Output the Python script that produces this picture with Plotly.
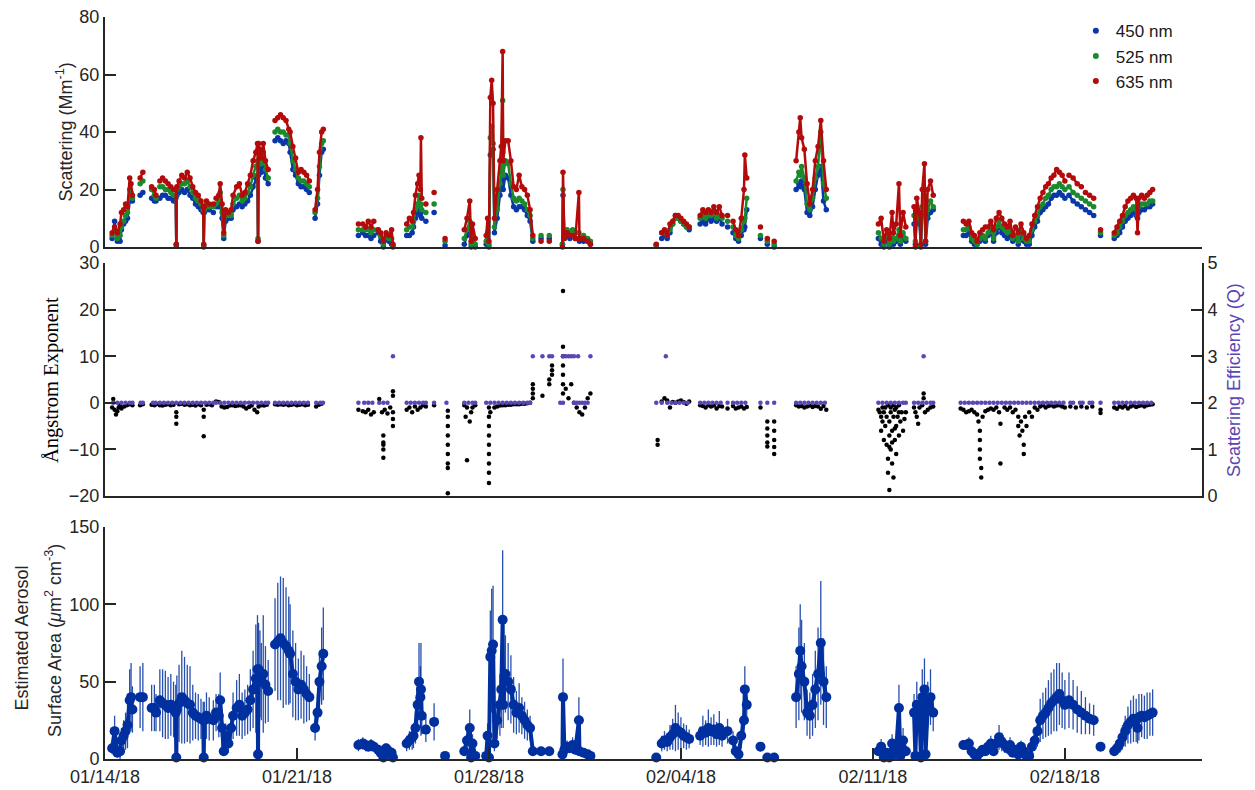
import plotly.graph_objects as go
import pandas as pd

# ---------------- DATA (days after 2018-01-14 00:00; None = data gap) ----------------
SCAT_T = [
    0.26, 0.35, 0.45, 0.55, 0.6, 0.68, 0.75, 0.82, 0.9, 0.95, 1.0, None,
    1.28, 1.38, None,
    1.7, 1.8, 1.86, None,
    2.0, 2.1, 2.2, 2.3, 2.4, 2.5, 2.58, 2.6, 2.62, 2.7, 2.8, 2.9, 3.0, 3.1, 3.2, 3.3, 3.4, 3.5, 3.58, 3.6, 3.62, 3.7, 3.8, 3.95, None,
    4.05, 4.15, 4.2, 4.27, 4.33, 4.4, 4.5, 4.6, 4.67, 4.8, 4.9, 5.0, 5.1, 5.2, 5.3, 5.4, 5.5, 5.56, 5.58, 5.6, 5.65, 5.7, 5.77, 5.85, 5.95, None,
    6.2, 6.3, 6.4, 6.5, 6.6, 6.7, 6.75, 6.85, 6.95, 7.05, 7.15, 7.25, 7.35, 7.45, None,
    7.66, 7.75, 7.82, 7.9, 7.96, None,
    9.24, None,
    9.4, 9.5, 9.6, 9.7, 9.8, None,
    9.96, 10.05, 10.15, 10.25, 10.35, 10.45, 10.5, None,
    11.0, 11.1, 11.2, 11.25, 11.32, 11.4, 11.45, 11.5, 11.52, 11.55, None,
    11.7, None, 12.0, None, 12.4, None,
    13.1, 13.2, 13.3, 13.35, 13.4, 13.5, None,
    13.9, 13.95, 14.0, 14.05, 14.1, 14.15, 14.2, 14.3, 14.4, 14.45, 14.5, 14.52, 14.6, 14.7, 14.8, 14.9, 15.0, 15.1, 15.2, 15.3, 15.4, 15.5, 15.6, None,
    15.9, None, 16.2, None,
    16.68, 16.7, 16.75, 16.85, 16.95, 17.05, 17.15, 17.28, 17.3, 17.45, 17.6, 17.7, None,
    20.1, None,
    20.3, 20.4, 20.5, 20.6, 20.7, 20.8, 20.9, 21.0, 21.1, 21.2, 21.3, None,
    21.7, 21.8, 21.9, 22.0, 22.1, 22.2, 22.3, 22.4, 22.5, None,
    22.7, None,
    22.9, 23.0, 23.1, 23.2, 23.3, 23.33, 23.4, None,
    23.9, None, 24.15, None, 24.4, None,
    25.2, 25.3, 25.35, 25.4, 25.5, 25.6, 25.7, 25.8, 25.9, 26.0, 26.1, 26.2, 26.3, None,
    28.2, 28.3, 28.4, 28.5, 28.6, 28.7, 28.75, 28.85, 28.95, 29.0, 29.1, 29.2, None,
    29.5, 29.55, 29.6, 29.7, 29.75, 29.8, 29.88, 29.92, 30.0, 30.1, 30.2, None,
    31.3, 31.4, 31.5, 31.6, 31.7, 31.8, 31.9, 32.0, 32.1, 32.2,
    32.3, 32.4, 32.5, 32.6, 32.7, 32.8, 32.9, 33.0, 33.1, 33.2,
    33.3, 33.4, 33.5, 33.6, 33.7, 33.8, 33.9, 34.0, 34.1, 34.2,
    34.3, 34.4, 34.5, 34.6, 34.7, 34.8, 34.9, 35.0, None,
    35.15, 35.3, 35.45, 35.6, None,
    35.75, 35.9, 36.05, None,
    36.3, None,
    36.8, 36.9, 37.0, 37.1, 37.2, 37.3, 37.4, 37.5, 37.6, 37.65, 37.7, 37.8, 37.9, 38.0, 38.1, 38.2,
]

SCAT_450 = [
    3, 9, 2, 2, 6, 8, 9, 10, 16, 17, 16, None,
    18, 19, None,
    17, 16, 16, None,
    17, 18, 18, 17, 17, 16, 17, 0.5, 18, 19, 20, 19, 20, 18, 17, 15, 14, 13, 12, 0, 12, 13, 13, 12, None,
    14, 14, 16, 10, 3, 9, 10, 10, 13, 14, 15, 14, 15, 16, 18, 21, 24, 25, 2, 25, 28, 26, 30, 24, 22, None,
    37, 38, 37, 36, 37, 36, 33, 27, 25, 22, 21, 21, 20, 19, None,
    10, 15, 25, 33, 34, None,
    4, None,
    5, 4, 4, 3, 4, None,
    5, 2, 0, 3, 2, 1, 0, None,
    4, 4, 5, 7, 10, 12, 13, 11, 12, 10, None,
    9, None, 12, None, 0.5, None,
    1, 4, 6, 0, 3, 0, None,
    1, 3, 0, 32, 33, 34, 5, 10, 18, 21, 33, 20, 25, 24, 18, 14, 13, 14, 14, 13, 11, 9, 2, None,
    3, None, 3, None,
    1, 18, 3, 4, 3, 4, 3, 3, 2, 2, 2, 1, None,
    0.5, None,
    3, 4, 3, 5, 8, 11, 10, 9, 8, 7, 6, None,
    8, 9, 8, 10, 9, 10, 9, 10, 8, None,
    7, None,
    5, 3, 2, 4, 6, 7, 13, None,
    3, None, 1, None, 0, None,
    20, 22, 21, 23, 20, 12, 11, 14, 20, 25, 28, 16, 13, None,
    3, 1, 0, 2, 0, 2, 1, 2, 4, 1, 3, 2, None,
    8, 1, 10, 8, 0, 12, 13, 1, 10, 12, 13, None,
    4, 4, 5, 2, 1, 1, 2, 3, 2, 4,
    5, 2, 5, 7, 5, 4, 3, 4, 2, 3,
    1, 4, 2, 1, 1, 4, 7, 9, 12, 13,
    14, 15, 17, 18, 18, 19, 18, 17, None,
    18, 16, 15, 14, None,
    13, 12, 11, None,
    4, None,
    3, 4, 5, 7, 9, 10, 11, 12, 11, 10, 12, 13, 13, 14, 14, 15,
]

SCAT_525 = [
    4, 6, 3, 4, 7, 9, 11, 12, 20, 19, 17, None,
    22, 23, None,
    20, 18, 17, None,
    21, 21, 20, 20, 19, 18, 18, 1, 20, 21, 22, 22, 23, 21, 19, 17, 16, 15, 13, 0.5, 13, 14, 14, 14, None,
    15, 16, 19, 12, 4, 11, 11, 11, 15, 17, 18, 16, 17, 19, 21, 25, 28, 30, 3, 30, 31, 29, 33, 27, 24, None,
    40, 41, 40, 40, 39, 39, 36, 30, 27, 24, 23, 23, 22, 21, None,
    12, 17, 28, 36, 37, None,
    6, None,
    6, 6, 6, 5, 6, None,
    6, 4, 1, 4, 3, 3, 0.5, None,
    6, 7, 7, 9, 13, 15, 18, 14, 15, 13, None,
    12, None, 15, None, 2, None,
    3, 6, 9, 1, 5, 1, None,
    2, 5, 1, 38, 42, 36, 7, 13, 22, 26, 51, 25, 30, 29, 22, 17, 16, 17, 16, 15, 13, 11, 3, None,
    4, None, 4, None,
    1, 20, 4, 6, 5, 6, 5, 5, 3, 4, 3, 2, None,
    0.8, None,
    5, 5, 4, 6, 8, 10, 10, 9, 8, 7, 7, None,
    10, 11, 10, 11, 11, 12, 10, 11, 10, None,
    9, None,
    7, 4, 3, 6, 9, 10, 17, None,
    4, None, 2, None, 1, None,
    23, 26, 25, 28, 24, 15, 13, 17, 24, 28, 40, 22, 17, None,
    5, 3, 1, 4, 1, 4, 2, 3, 6, 2, 5, 3, None,
    11, 2, 13, 10, 0.5, 14, 18, 2, 13, 16, 14, None,
    6, 6, 7, 3, 2, 1, 3, 4, 3, 5,
    7, 3, 7, 9, 7, 6, 5, 6, 3, 4,
    2, 6, 3, 2, 2, 6, 9, 11, 14, 15,
    17, 18, 20, 21, 21, 22, 21, 20, None,
    21, 19, 18, 17, None,
    16, 15, 14, None,
    5, None,
    4, 5, 7, 9, 11, 12, 13, 14, 13, 11, 14, 15, 15, 15, 16, 16,
]

SCAT_635 = [
    5, 7, 5, 8, 12, 13, 15, 14, 24, 22, 18, None,
    24, 26, None,
    21, 20, 18, None,
    23, 24, 23, 22, 21, 20, 20, 1, 21, 23, 25, 24, 26, 24, 21, 19, 18, 16, 14, 1, 14, 16, 15, 15, None,
    17, 18, 22, 15, 5, 13, 12, 13, 18, 21, 22, 18, 19, 22, 25, 30, 33, 36, 2, 36, 34, 31, 36, 30, 27, None,
    44, 45, 46, 45, 44, 41, 40, 35, 31, 26, 27, 26, 25, 23, None,
    13, 20, 33, 40, 41, None,
    8, None,
    8, 7, 9, 7, 9, None,
    6, 5, 2, 5, 4, 6, 1, None,
    8, 10, 9, 12, 18, 22, 25, 20, 38, 17, None,
    15, None, 19, None, 3, None,
    6, 10, 16, 2, 8, 3, None,
    4, 10, 2, 52, 58, 50, 10, 20, 30, 35, 68, 30, 37, 37, 30, 21, 20, 25, 21, 20, 18, 13, 4, None,
    2, None, 2, None,
    0, 26, 3, 5, 4, 4, 3, 19, 3, 3, 2, 1, None,
    1, None,
    5, 6, 4, 8, 9, 11, 11, 10, 9, 8, 7, None,
    11, 13, 12, 13, 12, 14, 12, 14, 11, None,
    11, None,
    9, 6, 4, 10, 20, 32, 24, None,
    7, None, 3, None, 2, None,
    30, 40, 45, 38, 34, 22, 15, 20, 30, 35, 44, 30, 20, None,
    8, 10, 2, 6, 3, 12, 5, 8, 22, 4, 12, 7, None,
    14, 0, 17, 12, 1, 20, 29, 2, 20, 23, 18, None,
    9, 8, 9, 5, 4, 2, 5, 6, 7, 7,
    9, 6, 10, 12, 10, 8, 7, 9, 4, 7,
    5, 8, 5, 3, 4, 8, 11, 14, 17, 19,
    21, 22, 24, 25, 27, 26, 25, 23, None,
    25, 24, 22, 21, None,
    19, 18, 17, None,
    6, None,
    5, 7, 9, 11, 14, 16, 17, 18, 17, 5, 17, 18, 17, 18, 19, 20,
]

# Estimated aerosol surface area and its uncertainty, on the SCAT_T times
SA = [
    7, 18, 4, 5, 12, 15, 18, 22, 38, 40, 32, None,
    40, 40, None,
    33, 33, 30, None,
    38, 36, 35, 33, 35, 32, 30, 1, 32, 36, 40, 38, 36, 35, 30, 28, 27, 26, 25, 1, 25, 28, 26, 25, None,
    30, 28, 38, 20, 5, 15, 10, 20, 28, 33, 35, 28, 30, 32, 38, 45, 52, 58, 3, 58, 55, 50, 55, 48, 44, None,
    74, 76, 78, 75, 73, 70, 68, 55, 50, 45, 48, 45, 42, 40, None,
    20, 30, 50, 60, 68, None,
    9, None,
    10, 9, 8, 9, 8, None,
    6, 4, 1, 7, 5, 4, 1, None,
    10, 12, 14, 15, 20, 35, 50, 40, 45, 28, None,
    19, None, 24, None, 2, None,
    5, 12, 20, 1, 10, 2, None,
    2, 15, 1, 66, 70, 74, 10, 25, 35, 45, 90, 35, 55, 50, 45, 35, 30, 33, 28, 25, 22, 20, 5, None,
    5, None, 5, None,
    3, 40, 6, 8, 7, 9, 6, 25, 5, 4, 3, 2, None,
    1, None,
    10, 12, 11, 14, 16, 20, 18, 17, 15, 14, 13, None,
    15, 18, 17, 20, 18, 19, 16, 20, 15, None,
    18, None,
    12, 5, 3, 15, 25, 45, 35, None,
    8, None, 1, None, 1, None,
    40, 55, 70, 60, 50, 30, 28, 35, 45, 55, 75, 50, 40, None,
    5, 8, 1, 4, 1, 10, 3, 6, 33, 2, 12, 5, None,
    30, 2, 35, 28, 1, 40, 45, 3, 35, 40, 30, None,
    9, 9, 10, 5, 3, 2, 4, 6, 5, 8,
    10, 5, 10, 14, 11, 9, 7, 9, 4, 6,
    3, 8, 5, 2, 2, 8, 12, 18, 25, 28,
    30, 33, 36, 38, 40, 42, 38, 35, None,
    38, 35, 32, 30, None,
    28, 26, 25, None,
    8, None,
    5, 7, 10, 14, 18, 22, 24, 26, 25, 20, 27, 28, 27, 28, 29, 30,
]

SA_ERR = [
    4, 10, 3, 5, 8, 10, 12, 15, 20, 22, 15, None,
    20, 22, None,
    15, 15, 12, None,
    20, 22, 22, 20, 20, 18, 18, 1, 22, 25, 30, 28, 25, 25, 18, 15, 15, 13, 12, 1, 12, 15, 14, 13, None,
    12, 14, 18, 12, 3, 8, 6, 10, 15, 18, 20, 15, 15, 16, 20, 25, 35, 35, 2, 30, 28, 25, 38, 25, 20, None,
    30, 38, 40, 42, 38, 35, 32, 28, 25, 20, 22, 22, 18, 15, None,
    8, 12, 18, 25, 30, None,
    4, None,
    4, 4, 3, 4, 3, None,
    2, 3, 1, 3, 3, 3, 1, None,
    5, 6, 8, 8, 10, 15, 25, 20, 30, 12, None,
    8, None, 12, None, 1, None,
    3, 6, 12, 1, 6, 1, None,
    1, 8, 1, 30, 40, 38, 5, 12, 20, 25, 45, 15, 25, 25, 22, 18, 14, 16, 12, 12, 10, 8, 2, None,
    1, None, 1, None,
    1, 25, 2, 4, 3, 5, 3, 15, 2, 2, 1, 1, None,
    0.5, None,
    5, 6, 6, 8, 10, 15, 12, 10, 8, 8, 6, None,
    6, 10, 8, 12, 9, 10, 8, 11, 7, None,
    8, None,
    6, 3, 2, 8, 12, 15, 12, None,
    3, None, 0.5, None, 0.5, None,
    20, 30, 30, 30, 25, 15, 15, 20, 25, 30, 40, 28, 20, None,
    3, 5, 1, 3, 1, 6, 2, 4, 15, 1, 8, 3, None,
    12, 1, 15, 12, 1, 18, 20, 1, 15, 18, 12, None,
    3, 3, 4, 2, 2, 1, 2, 3, 3, 4,
    5, 3, 5, 8, 6, 5, 4, 5, 2, 3,
    2, 4, 3, 1, 1, 4, 6, 10, 14, 15,
    16, 18, 20, 20, 22, 20, 18, 16, None,
    18, 16, 15, 14, None,
    12, 10, 10, None,
    3, None,
    3, 4, 6, 8, 10, 12, 14, 15, 14, 10, 15, 14, 14, 15, 14, 15,
]

AE_T = [
    0.26, 0.3, 0.35, 0.4, 0.45, 0.5, 0.55, 0.6, 0.7, 0.8, 0.9, 1.0,
    1.28, 1.38, 1.7, 1.8, 1.86,
    2.0, 2.1, 2.2, 2.3, 2.4, 2.5, 2.6, 2.6, 2.6, 2.7, 2.8, 2.9, 3.0, 3.1, 3.2, 3.3, 3.4, 3.5, 3.6, 3.6, 3.6, 3.7, 3.8, 3.9,
    4.05, 4.15, 4.25, 4.35, 4.45, 4.55, 4.65, 4.75, 4.85, 4.95, 5.05, 5.15, 5.25, 5.35, 5.45, 5.55, 5.6, 5.7, 5.8, 5.9,
    6.2, 6.3, 6.4, 6.5, 6.6, 6.7, 6.8, 6.9, 7.0, 7.1, 7.2, 7.3, 7.4,
    7.7, 7.8, 7.9,
    9.24, 9.4, 9.5, 9.6, 9.7, 9.8,
    10.0, 10.1, 10.15, 10.15, 10.15, 10.15, 10.15, 10.2, 10.3, 10.4, 10.5, 10.5, 10.5, 10.5, 10.5,
    11.0, 11.1, 11.2, 11.3, 11.4, 11.5, 11.6, 11.7, 12.0,
    12.5, 12.5, 12.5, 12.5, 12.5, 12.5, 12.5, 12.5, 12.5,
    13.1, 13.15, 13.2, 13.2, 13.3, 13.35, 13.4, 13.5,
    14.0, 14.0, 14.0, 14.0, 14.0, 14.0, 14.0, 14.0, 14.0, 14.05,
    14.2, 14.3, 14.4, 14.5, 14.6, 14.7, 14.8, 14.9, 15.0, 15.1, 15.2, 15.3, 15.4, 15.5,
    15.6, 15.6, 15.6, 15.6, 15.95, 16.2, 16.2, 16.3, 16.3, 16.3,
    16.7, 16.7, 16.7, 16.7, 16.7, 16.7, 16.7,
    16.8, 16.9, 17.0, 17.1, 17.2, 17.3, 17.4, 17.5, 17.6, 17.7,
    20.15, 20.15,
    20.3, 20.4, 20.5, 20.6, 20.7, 20.8, 20.9, 21.0, 21.1, 21.2, 21.3,
    21.7, 21.8, 21.9, 22.0, 22.1, 22.2, 22.3, 22.4, 22.5, 22.7,
    22.9, 23.0, 23.1, 23.2, 23.3, 23.4, 23.9,
    24.15, 24.15, 24.15, 24.15, 24.15, 24.4, 24.4, 24.4, 24.4, 24.4,
    25.2, 25.3, 25.4, 25.5, 25.6, 25.7, 25.8, 25.9, 26.0, 26.1, 26.2, 26.3,
    28.2, 28.25, 28.3, 28.3, 28.35, 28.35, 28.4, 28.4, 28.45, 28.45,
    28.5, 28.5, 28.55, 28.55, 28.55, 28.6, 28.6, 28.6, 28.6, 28.65,
    28.65, 28.65, 28.7, 28.7, 28.7, 28.75, 28.75, 28.75, 28.8, 28.8,
    28.8, 28.85, 28.85, 28.85, 28.9, 28.95, 28.95, 28.95, 29.0, 29.05,
    29.1, 29.15, 29.2,
    29.5, 29.55, 29.6, 29.65, 29.7, 29.8, 29.85, 29.85, 29.9, 30.0, 30.1, 30.2,
    31.2, 31.3, 31.4, 31.5, 31.6, 31.7, 31.8, 31.85, 31.9, 31.9,
    31.9, 31.9, 31.95, 31.95, 32.0, 32.1, 32.2, 32.3, 32.4,
    32.5, 32.6, 32.65, 32.65, 32.8, 32.9, 33.0, 33.1, 33.2, 33.3,
    33.3, 33.35, 33.4, 33.45, 33.5, 33.5, 33.55, 33.6, 33.7, 33.8,
    33.9, 34.0,
    34.1, 34.2, 34.3, 34.4, 34.5, 34.6, 34.7, 34.8, 34.9, 35.0,
    35.2, 35.4, 35.6, 35.8, 36.0, 36.3, 36.3,
    36.8, 36.9, 37.0, 37.1, 37.2, 37.3, 37.4, 37.5, 37.6, 37.7, 37.8, 37.9, 38.0, 38.1, 38.2,
]

AE_V = [
    -1, 0.8, -1.5, -2.5, -1.8, -1, -0.5, -1.2, -0.8, -0.5, -0.3, -0.5,
    -0.5, -0.3, -0.4, -0.5, -0.3,
    -0.5, -0.6, -0.4, -0.3, -0.5, -0.4, -2, -3, -4.5, -0.3, -0.2, -0.4, -0.3, -0.5, -0.4, -0.6, -0.3, -0.5, -1.5, -3, -7.2, -0.4, -0.3, -0.5,
    0.3, 0.2, -0.8, -1, -0.9, -0.6, -0.5, -0.7, -0.6, -0.5, -0.8, -1.2, -0.9, -0.6, -1.5, -2, -0.8, -0.5, -0.6, -0.4,
    -0.3, -0.4, -0.3, -0.4, -0.3, -0.5, -0.4, -0.3, -0.5, -0.4, -0.3, -0.5, -0.4,
    -0.8, -0.4, -0.2,
    -1.5, -1.8, -2, -1.5, -2.5, -2,
    0.8, -2, -7, -8.5, -10, -11.8, -9, -1.5, -2.3, -1, 2.5, 1.5, -2, -3.5, -5,
    -1.5, -1, -2, -0.8, -1.5, -1, -0.5, -0.8, -0.5,
    -1.7, -3, -5, -7, -9, -11, -13, -14, -19.4,
    -0.5, -3, -1, -12.3, -4, -2, -1, -0.5,
    -1, -3, -5, -7, -9, -11, -13, -15, -17.2, -2,
    -1, -0.8, -0.6, -0.5, -0.5, -0.4, -0.4, -0.3, -0.3, -0.3, -0.2, -0.2, -0.1, 0,
    1, 2, 3, 4, 1.5, 4, 5, 6, 7, 8,
    24, 12, 10, 8, 6, 4, 2,
    3, 1, 4, 0, -1, -2, -2.5, -1, 1, 2,
    -8, -9,
    0.3, 1, 0.5, -1, 0.2, 0, 0.3, 0.5, 0.2, -0.2, 0.3,
    -0.5, -0.7, -1, -0.5, -0.8, -0.6, -1.2, -0.7, -0.8, -1.2,
    -0.7, -1.2, -1, -0.8, -1.2, -0.9, -1,
    -4, -5.5, -7, -8.5, -9.4, -4, -6, -8, -9.5, -11,
    -0.5, -0.8, -0.7, -1, -0.8, -0.6, -0.9, -0.7, -0.8, -1.3, -0.7, -1.5,
    -1.5, -2, -3, -6, -4, -1, -8, -2, -5, -1,
    -9, -3, -12, -15, -0.5, -18.7, -7, -4, -9.5, -10,
    -2, -1, -6, -13, -8.5, -16, -3, -0.5, -8, -1.5,
    -5.5, -5, -11, -1, -3, -2, -7, -0.5, -4, -2,
    -6, -3.5, -2,
    -1, -2, -3, -4.5, -1, -0.5, 2, 1, -2, -1.5, -1, -0.8,
    -1.2, -1.5, -2, -1.8, -1.5, -2, -2.5, -4, -6, -8,
    -10, -12, -14, -16, -3, -1.8, -1.5, -1.2, -1.5,
    -1, -2, -4.5, -13, -1, -1.5, -1, -2, -1.5, -3,
    -5, -7, -4, -6, -9, -11, -3, -5, -2, -3,
    -1, -1.5,
    -0.8, -0.5, -1, -0.7, -0.5, -0.8, -0.6, -0.5, -0.8, -1,
    -0.8, -1, -0.8, -1, -0.8, -1.5, -2.2,
    -1, -1.3, -0.8, -1, -0.7, -1.2, -0.8, -0.6, -0.9, -0.7, -0.5, -0.8, -0.5, -0.4, -0.3,
]

Q_T = [
    0.3, 0.45, 0.6, 0.75, 0.9, 1.0, 1.3, 1.38, 1.75, 1.85,
    2.0, 2.15, 2.3, 2.45, 2.6, 2.75, 2.9, 3.05, 3.2, 3.35, 3.5, 3.65, 3.8, 3.95,
    4.05, 4.2, 4.35, 4.5, 4.65, 4.8, 4.95, 5.1, 5.25, 5.4, 5.55, 5.7, 5.85, 5.95,
    6.2, 6.35, 6.5, 6.65, 6.8, 6.95, 7.1, 7.25, 7.4, 7.7, 7.85, 7.95,
    9.24, 9.45, 9.6, 9.75, 10.0, 10.15, 10.3, 10.5,
    11.0, 11.15, 11.3, 11.45, 11.6, 11.7, 12.0, 12.45,
    13.1, 13.25, 13.4, 13.5,
    13.9, 14.05, 14.2, 14.35, 14.5, 14.65, 14.8, 14.95, 15.1, 15.25, 15.4, 15.5,
    15.6, 15.95, 16.2, 16.3, 16.7, 16.8, 16.9, 17.0, 17.1, 17.25, 17.7,
    16.6, 16.7, 17.1, 17.2, 17.3, 17.4, 17.5, 17.6,
    20.1, 20.45, 20.3, 20.5, 20.65, 20.8, 20.95, 21.1, 21.25,
    21.7, 21.85, 22.0, 22.15, 22.3, 22.45, 22.7, 22.9, 23.05, 23.2, 23.35,
    23.9, 24.15, 24.4,
    25.2, 25.35, 25.5, 25.65, 25.8, 25.95, 26.1, 26.25,
    28.2, 28.35, 28.5, 28.65, 28.8, 28.95, 29.1, 29.2,
    29.5, 29.65, 29.8, 29.95, 30.1, 30.2, 29.85,
    31.2, 31.35, 31.5, 31.65, 31.8, 31.95, 32.1, 32.25, 32.4, 32.55,
    32.7, 32.85, 33.0, 33.15, 33.3, 33.45, 33.6, 33.75, 33.9, 34.05,
    34.2, 34.35, 34.5, 34.65, 34.8, 34.95,
    35.2, 35.3, 35.55, 35.65, 35.9, 36.0, 36.3,
    36.8, 36.95, 37.1, 37.25, 37.4, 37.55, 37.7, 37.85, 38.0, 38.15,
]

Q_V = [
    2, 2, 2, 2, 2, 2, 2, 2, 2, 2,
    2, 2, 2, 2, 2, 2, 2, 2, 2, 2, 2, 2, 2, 2,
    2, 2, 2, 2, 2, 2, 2, 2, 2, 2, 2, 2, 2, 2,
    2, 2, 2, 2, 2, 2, 2, 2, 2, 2, 2, 2,
    2, 2, 2, 2, 2, 2, 2, 3,
    2, 2, 2, 2, 2, 2, 2, 2,
    2, 2, 2, 2,
    2, 2, 2, 2, 2, 2, 2, 2, 2, 2, 2, 2,
    3, 3, 3, 3, 3, 3, 3, 3, 3, 3, 3,
    2, 2, 2, 2, 2, 2, 2, 2,
    2, 3, 2, 2, 2, 2, 2, 2, 2,
    2, 2, 2, 2, 2, 2, 2, 2, 2, 2, 2,
    2, 2, 2,
    2, 2, 2, 2, 2, 2, 2, 2,
    2, 2, 2, 2, 2, 2, 2, 2,
    2, 2, 2, 2, 2, 2, 3,
    2, 2, 2, 2, 2, 2, 2, 2, 2, 2,
    2, 2, 2, 2, 2, 2, 2, 2, 2, 2,
    2, 2, 2, 2, 2, 2,
    2, 2, 2, 2, 2, 2, 2,
    2, 2, 2, 2, 2, 2, 2, 2, 2, 2,
]

WAVELENGTH_LABELS = ["450 nm", "525 nm", "635 nm"]
TICK_DATES = ["2018-01-14", "2018-01-21", "2018-01-28", "2018-02-04", "2018-02-11", "2018-02-18"]
TICK_TEXT = ["01/14/18", "01/21/18", "01/28/18", "02/04/18", "02/11/18", "02/18/18"]

assert len(SCAT_T) == len(SCAT_450) == len(SCAT_525) == len(SCAT_635) == len(SA) == len(SA_ERR), (
    len(SCAT_T), len(SCAT_450), len(SCAT_525), len(SCAT_635), len(SA), len(SA_ERR))
assert len(AE_T) == len(AE_V), (len(AE_T), len(AE_V))
assert len(Q_T) == len(Q_V), (len(Q_T), len(Q_V))

# ---------------- FIGURE ----------------
BASE = pd.Timestamp("2018-01-14")


def to_dates(ts):
    return [None if t is None else BASE + pd.Timedelta(days=t) for t in ts]


C_BLUE = "#0a36a8"
C_GREEN = "#1b8a2c"
C_RED = "#b30b0b"
C_PURPLE = "#5a46b4"
C_SA = "#0030a0"
AX = "#262626"
FONT = "Liberation Sans, Arial, sans-serif"

fig = go.Figure()

xs = to_dates(SCAT_T)
for vals, col in [(SCAT_450, C_BLUE), (SCAT_525, C_GREEN), (SCAT_635, C_RED)]:
    fig.add_trace(go.Scatter(x=xs, y=vals, mode="lines+markers", xaxis="x", yaxis="y",
                             line=dict(color=col, width=2.5), marker=dict(color=col, size=5.5),
                             connectgaps=False, showlegend=False, cliponaxis=False))
for lab, col in zip(WAVELENGTH_LABELS, [C_BLUE, C_GREEN, C_RED]):
    fig.add_trace(go.Scatter(x=[None], y=[None], mode="markers", xaxis="x", yaxis="y",
                             marker=dict(color=col, size=6), name=lab, showlegend=True))

fig.add_trace(go.Scatter(x=to_dates(AE_T), y=AE_V, mode="markers", xaxis="x2", yaxis="y2",
                         marker=dict(color="black", size=4.5), showlegend=False, cliponaxis=False))
fig.add_trace(go.Scatter(x=to_dates(Q_T), y=Q_V, mode="markers", xaxis="x2", yaxis="y4",
                         marker=dict(color=C_PURPLE, size=4.5), showlegend=False, cliponaxis=False))

fig.add_trace(go.Scatter(x=xs, y=SA, mode="lines+markers", xaxis="x3", yaxis="y3",
                         line=dict(color=C_SA, width=4), marker=dict(color=C_SA, size=10),
                         error_y=dict(type="data", array=SA_ERR, color="rgba(0,48,160,0.85)",
                                      thickness=1.3, width=0),
                         connectgaps=False, showlegend=False, cliponaxis=False))

XR = ["2018-01-14", "2018-02-23"]
tickfont = dict(family=FONT, size=18, color=AX)
common_x = dict(range=XR, type="date", showgrid=False, zeroline=False, showline=True,
                linecolor=AX, linewidth=2, automargin=False)
common_y = dict(showgrid=False, zeroline=False, showline=True, linecolor=AX, linewidth=2,
                ticks="inside", ticklen=11, tickwidth=2, tickcolor=AX, tickfont=tickfont,
                automargin=False)

fig.update_layout(
    width=1255, height=790,
    margin=dict(l=105, r=53, t=17, b=31, autoexpand=False),
    paper_bgcolor="white", plot_bgcolor="white",
    font=dict(family=FONT, color=AX),
    xaxis=dict(**common_x, anchor="y", domain=[0, 1], showticklabels=False, ticks=""),
    yaxis=dict(**common_y, anchor="x", domain=[0.69, 1.0], range=[0, 80],
               tickvals=[0, 20, 40, 60, 80]),
    xaxis2=dict(**common_x, anchor="y2", domain=[0, 1], showticklabels=False, ticks=""),
    yaxis2=dict(**common_y, anchor="x2", domain=[0.3544, 0.6685], range=[-20, 30],
                tickvals=[-20, -10, 0, 10, 20, 30]),
    yaxis4=dict(**common_y, anchor="x2", overlaying="y2", side="right", range=[0, 5],
                tickvals=[0, 1, 2, 3, 4, 5]),
    xaxis3=dict(**common_x, anchor="y3", domain=[0, 1], tickvals=TICK_DATES, ticktext=TICK_TEXT,
                ticks="inside", ticklen=11, tickwidth=2, tickcolor=AX, tickfont=tickfont),
    yaxis3=dict(**common_y, anchor="x3", domain=[0, 0.3127], range=[0, 150],
                tickvals=[0, 50, 100, 150]),
    legend=dict(x=0.885, y=1.005, xanchor="left", yanchor="top", bgcolor="rgba(0,0,0,0)",
                font=dict(family=FONT, size=17, color="#1a1a1a"), itemwidth=30),
)

ann = dict(xref="paper", yref="paper", showarrow=False, textangle=-90,
           xanchor="center", yanchor="middle")
fig.add_annotation(**ann, x=-0.0369, y=0.845, text="Scattering (Mm<sup>-1</sup>)",
                   font=dict(family=FONT, size=18, color=AX))
fig.add_annotation(**ann, x=-0.0483, y=0.5108, text="Ångstrom Exponent",
                   font=dict(family="Liberation Serif, DejaVu Serif, serif", size=20.5, color="black"))
fig.add_annotation(**ann, x=1.0292, y=0.5108, text="Scattering Efficiency (Q)",
                   font=dict(family=FONT, size=18, color=C_PURPLE))
fig.add_annotation(**ann, x=-0.0761, y=0.1631, text="Estimated Aerosol",
                   font=dict(family=FONT, size=18, color=AX))
fig.add_annotation(**ann, x=-0.0465, y=0.1604,
                   text="Surface Area (<i>μ</i>m<sup>2</sup> cm<sup>-3</sup>)",
                   font=dict(family=FONT, size=18, color=AX))

fig.write_html("out.html")
